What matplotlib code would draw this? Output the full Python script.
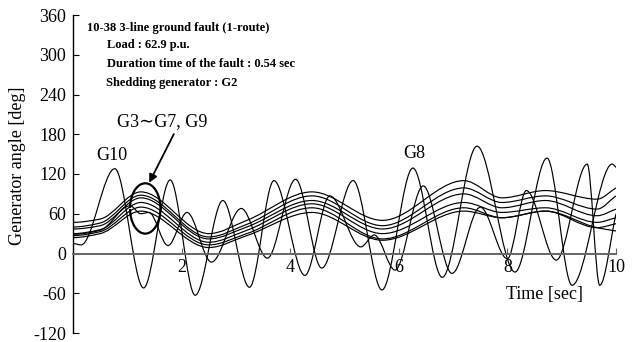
import numpy as np
import matplotlib
matplotlib.use("Agg")
import matplotlib.pyplot as plt
from matplotlib.path import Path
from matplotlib.patches import PathPatch, Arc

plt.rcParams['font.family'] = ['Liberation Serif', 'DejaVu Serif']

# ---- data ----
# oscillating generators: (time [s], angle [deg]) at extrema / key points
g10_t = [0.0, 0.15, 0.77, 1.30, 1.79, 2.25, 2.76, 3.25, 3.70, 4.27, 4.73, 5.30, 5.55, 5.93, 6.45, 6.98, 7.50, 8.00, 8.35, 8.90, 9.47, 9.70, 10.0]
g10_v = [15, 13, 128, -52, 111, -63, 80, -51, 110, -33, 87, 10, 28, -25, 102, -30, 70, -8, 95, -10, 135, -48, 60]

g8_t = [0.0, 0.5, 1.05, 1.25, 1.40, 1.75, 2.10, 2.55, 3.10, 3.58, 4.10, 4.58, 5.16, 5.69, 6.26, 6.80, 7.44, 8.14, 8.73, 9.19, 9.93, 10.0]
g8_v = [29, 35, 72, 60, 62, 12, 62, -13, 68, -7, 112, -22, 110, -55, 129, -36, 162, -28, 144, -48, 135, 130]

# G3 ~ G7, G9 bundle
bundle_t = [0.0, 0.5, 1.25, 2.5, 3.2, 4.4, 5.7, 7.2, 7.9, 8.7, 9.65, 10.0]
bundle_v = [
    [47, 52, 93, 30, 50, 93, 50, 110, 84, 95, 82, 99],
    [40, 46, 88, 25, 44, 87, 42, 99, 77, 87, 67, 87],
    [37, 42, 84, 22, 40, 80, 37, 90, 69, 80, 57, 67],
    [30, 36, 77, 17, 35, 75, 30, 77, 62, 69, 47, 54],
    [27, 33, 70, 13, 30, 69, 22, 69, 54, 64, 39, 34],
    [24, 30, 64, 9, 27, 62, 20, 64, 54, 64, 39, 45],
]

yticks = [-120, -60, 0, 60, 120, 180, 240, 300, 360]
xticks = [2, 4, 6, 8, 10]

info_lines = ["10-38 3-line ground fault (1-route)",
              "Load : 62.9 p.u.",
              "Duration time of the fault : 0.54 sec",
              "Shedding generator : G2"]


def smooth_path(t, v):
    """Monotone cubic (Bezier) rendering of the read points."""
    t = np.asarray(t, float)
    v = np.asarray(v, float)
    h = np.diff(t)
    d = np.diff(v) / h
    n = len(t)
    m = np.zeros(n)
    m[0] = 0.0
    m[-1] = d[-1]
    for i in range(1, n - 1):
        if d[i - 1] * d[i] > 0:
            w1 = 2 * h[i] + h[i - 1]
            w2 = h[i] + 2 * h[i - 1]
            m[i] = (w1 + w2) / (w1 / d[i - 1] + w2 / d[i])
        else:
            m[i] = 0.0
    verts = [(t[0], v[0])]
    codes = [Path.MOVETO]
    for i in range(n - 1):
        verts += [(t[i] + h[i] / 3, v[i] + m[i] * h[i] / 3),
                  (t[i + 1] - h[i] / 3, v[i + 1] - m[i + 1] * h[i] / 3),
                  (t[i + 1], v[i + 1])]
        codes += [Path.CURVE4] * 3
    return Path(verts, codes)


W, H = 637, 342
fig = plt.figure(figsize=(W / 100, H / 100), dpi=100)
ax = fig.add_axes([73 / W, 9 / H, 543 / W, 318 / H])
ax.set_xlim(0, 10)
ax.set_ylim(-120, 360)

lw = 0.85
for vals in bundle_v:
    ax.add_patch(PathPatch(smooth_path(bundle_t, vals), fill=False, lw=lw, ec='black'))
ax.add_patch(PathPatch(smooth_path(g10_t, g10_v), fill=False, lw=lw, ec='black'))
ax.add_patch(PathPatch(smooth_path(g8_t, g8_v), fill=False, lw=lw, ec='black'))

# axes styling
for s in ['top', 'right']:
    ax.spines[s].set_visible(False)
ax.spines['bottom'].set_position(('data', 0))
ax.spines['bottom'].set_color('#666666')
ax.spines['bottom'].set_linewidth(1.4)
ax.spines['left'].set_linewidth(1.0)
ax.set_yticks(yticks)
ax.set_yticklabels([str(y) for y in yticks])
ax.set_xticks(xticks)
ax.set_xticklabels([str(x) for x in xticks])
ax.tick_params(axis='y', direction='in', length=4, pad=5, labelsize=13)
ax.tick_params(axis='x', direction='in', length=4, pad=4, labelsize=13, color='#666666')

# texts (figure pixel positions)
def ftext(px, py, s, **kw):
    fig.text(px / W, 1 - py / H, s, **kw)

ftext(18, 166, "Generator angle [deg]", rotation=90, ha='center', va='center', fontsize=13)
ftext(544, 294, "Time [sec]", ha='center', va='center', fontsize=13)
ftext(112, 155, "G10", ha='center', va='center', fontsize=13)
ftext(414, 153, "G8", ha='center', va='center', fontsize=13)
ftext(117, 122, "G3\u223cG7, G9", ha='left', va='center', fontsize=13)

info_pos = [(87, 28), (107, 45), (107, 64), (106, 83)]
for (px, py), s in zip(info_pos, info_lines):
    ftext(px, py, s, ha='left', va='center', fontsize=9, fontweight='bold')

# arrow and open arc marking the G3~G7, G9 group
ax.annotate('', xy=(1.38, 103), xytext=(1.88, 184),
            arrowprops=dict(arrowstyle='-|>', lw=1.3, color='black', mutation_scale=12))
ax.add_patch(Arc((1.33, 68), 0.56, 76, theta1=-112, theta2=108, lw=1.6, color='black'))

fig.savefig("out.png", dpi=100)
